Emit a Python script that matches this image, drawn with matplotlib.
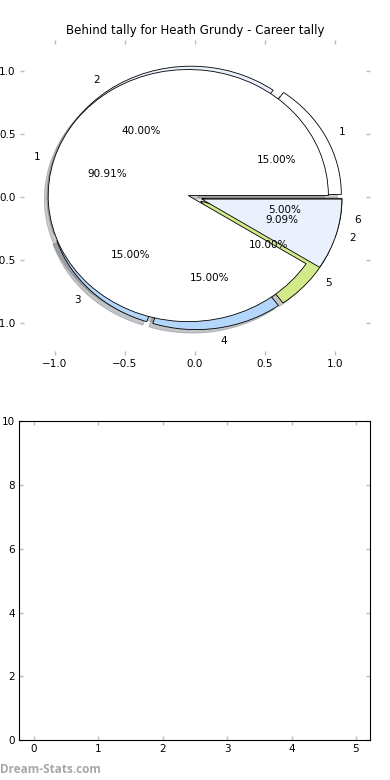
import matplotlib
matplotlib.use('Agg')
import matplotlib.pyplot as plt

title = "Behind tally for Heath Grundy - Career tally"

# outer ring: behinds per game count (share of games)
outer_labels = ['1', '2', '3', '4', '5', '6']
outer_values = [3, 8, 3, 3, 2, 1]
outer_colors = ['#ffffff', '#eaf1fd', '#b5d6fb', '#b5d6fb', '#d2ea8a', '#eaf1fd']

# inner ring
inner_labels = ['1', '2']
inner_values = [10, 1]
inner_colors = ['#ffffff', '#eaf1fd']

pie_ticks = [-1.0, -0.5, 0.0, 0.5, 1.0]
empty_xticks = [0, 1, 2, 3, 4, 5]
empty_yticks = [0, 2, 4, 6, 8, 10]

fig = plt.figure(figsize=(3.9, 7.8), dpi=100)
ax1 = fig.add_axes([0.051, 0.545, 0.898, 0.404])
ax2 = fig.add_axes([0.049, 0.051, 0.900, 0.409])

wp = {'linewidth': 0.6, 'edgecolor': 'black'}
tp = {'fontsize': 7.5}
shad = {'alpha': 0.3}
ax1.pie(outer_values, labels=outer_labels, colors=outer_colors,
        explode=[0.05] * len(outer_values), autopct='%1.2f%%',
        shadow=shad, wedgeprops=wp, textprops=tp)
ax1.pie(inner_values, labels=inner_labels, colors=inner_colors,
        explode=[0.05] * len(inner_values), autopct='%1.2f%%',
        shadow=shad, wedgeprops=wp, textprops=tp)
ax1.set_aspect('auto')
ax1.set_xlim(-1.25, 1.25)
ax1.set_ylim(-1.25, 1.25)
ax1.set_frame_on(False)
ax1.set_xticks(pie_ticks)
ax1.set_yticks(pie_ticks)
ax1.set_title(title, fontsize=8.5, pad=4)

ax2.set_xlim(-0.23, 5.22)
ax2.set_ylim(0, 10)
ax2.set_xticks(empty_xticks)
ax2.set_yticks(empty_yticks)
for sp in ax2.spines.values():
    sp.set_linewidth(0.8)

for ax in (ax1, ax2):
    ax.tick_params(direction='in', length=3, width=1, color='#bbbbbb',
                   labelsize=7.5, top=True, right=True, pad=3)

fig.text(0.0, 0.013, 'Dream-Stats.com', color='#a8a8a8', fontsize=8.5,
         fontweight='bold', family='Open Sans', va='center', ha='left')

fig.savefig('out.png', dpi=100)
